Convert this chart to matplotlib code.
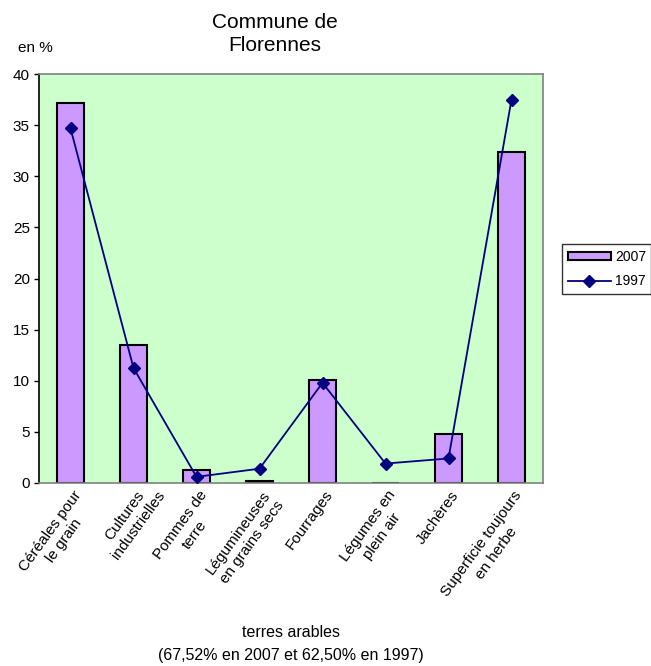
import matplotlib
matplotlib.use('Agg')
import matplotlib.pyplot as plt
import matplotlib.transforms as mtransforms
from matplotlib.font_manager import FontProperties
from matplotlib.patches import Patch
from matplotlib.lines import Line2D
import numpy as np

categories = ["Céréales pour\nle grain", "Cultures\nindustrielles", "Pommes de\nterre",
              "Légumineuses\nen grains secs", "Fourrages", "Légumes en\nplein air",
              "Jachères", "Superficie toujours\nen herbe"]
values_2007 = [37.2, 13.5, 1.3, 0.2, 10.1, 0.0, 4.8, 32.4]
values_1997 = [34.7, 11.25, 0.6, 1.4, 9.8, 1.9, 2.4, 37.5]
yticks = [0, 5, 10, 15, 20, 25, 30, 35, 40]
series_labels = ["2007", "1997"]
title = "Commune de\nFlorennes"
ylabel = "en %"
xlabel = "terres arables\n(67,52% en 2007 et 62,50% en 1997)"

plt.rcParams['font.family'] = ['Liberation Sans', 'DejaVu Sans']

W, H = 651, 666
fig = plt.figure(figsize=(W / 100, H / 100), dpi=100)
fig.patch.set_facecolor('white')
ax = fig.add_axes([39 / W, 1 - 483 / H, (543 - 39) / W, (483 - 74) / H])
ax.set_facecolor('#CCFFCC')

x = np.arange(len(categories))
ax.bar(x, values_2007, width=0.43, color='#CC99FF', edgecolor='black',
       linewidth=1.5, zorder=2)
ax.plot(x, values_1997, color='#000080', lw=1.3, marker='D', ms=6.5, zorder=3)

ax.set_xlim(-0.5, len(categories) - 0.5)
ax.set_ylim(0, 40)
ax.set_yticks(yticks)
ax.set_yticklabels([str(t) for t in yticks])
ax.set_xticks([])
ax.tick_params(axis='y', direction='out', length=3.6, width=1, pad=3,
               labelsize=11, colors='black')
for s in ['top', 'right', 'bottom']:
    ax.spines[s].set_color('#808080')
    ax.spines[s].set_linewidth(1.2)
ax.spines['left'].set_color('black')
ax.spines['left'].set_linewidth(1.2)

# rotated category labels (Excel style)
renderer = fig.canvas.get_renderer()
fp = FontProperties(family=['Liberation Sans'], size=11)
rot = 54
cr, sr = np.cos(np.radians(rot)), np.sin(np.radians(rot))
base = mtransforms.blended_transform_factory(ax.transData, ax.transAxes)
for i, lab in enumerate(categories):
    first = lab.split('\n')[0]
    w1, h1, d1 = renderer.get_text_width_height_descent(first, fp, ismath=False)
    dx_px = 2 - 0.5 * w1 * cr
    dy_px = -5 - 0.5 * w1 * sr
    trans = base + mtransforms.ScaledTranslation(dx_px / 100, dy_px / 100, fig.dpi_scale_trans)
    ax.text(i, 0, lab, transform=trans, rotation=rot, rotation_mode='anchor',
            ha='center', va='top', multialignment='center', fontproperties=fp,
            linespacing=1.3)

fig.text(275 / W, 1 - 34 / H, title, ha='center', va='center', fontsize=15,
         linespacing=1.26)
fig.text(18 / W, 1 - 48 / H, ylabel, ha='left', va='center', fontsize=11)
fig.text(291 / W, 1 - 644 / H, xlabel, ha='center', va='center', fontsize=11.5,
         linespacing=1.6)

handles = [Patch(facecolor='#CC99FF', edgecolor='black', linewidth=1.5),
           Line2D([], [], color='#000080', lw=1.3, marker='D', ms=6.5)]
leg = fig.legend(handles, series_labels, loc='center left',
                 bbox_to_anchor=(562 / W, 1 - 269 / H), fontsize=10,
                 frameon=True, fancybox=False, edgecolor='black',
                 handlelength=3.1, handleheight=0.5, borderaxespad=0,
                 borderpad=0.4, labelspacing=0.75, handletextpad=0.3)
leg.get_frame().set_linewidth(1)

fig.savefig('out.png', dpi=100)
